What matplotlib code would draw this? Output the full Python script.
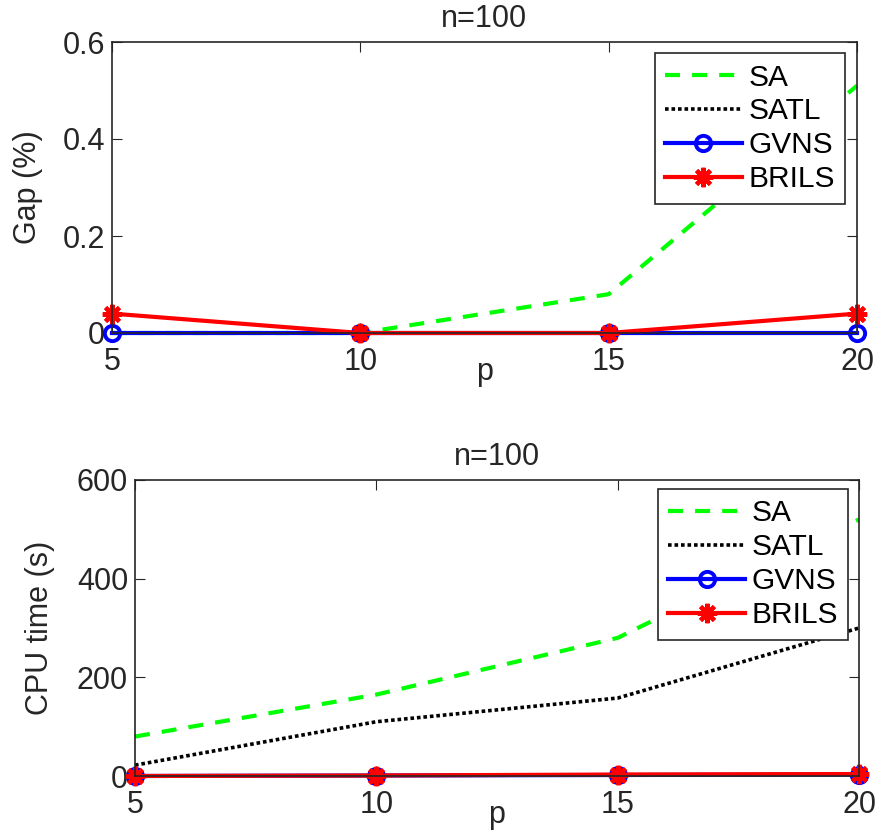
import matplotlib
matplotlib.use("Agg")
import matplotlib.pyplot as plt

plt.rcParams['font.family'] = ['Liberation Sans', 'DejaVu Sans']

p = [5, 10, 15, 20]
title = "n=100"

gap_sa = [0, 0, 0.08, 0.51]
gap_satl = [0, 0, 0, 0]
gap_gvns = [0, 0, 0, 0]
gap_brils = [0.04, 0, 0, 0.04]

cpu_sa = [80, 165, 280, 520]
cpu_satl = [22, 110, 158, 300]
cpu_gvns = [0, 1, 2, 3]
cpu_brils = [0, 1, 3, 4]

labels = ["SA", "SATL", "GVNS", "BRILS"]

DARK = (0.15, 0.15, 0.15)

fig = plt.figure(figsize=(8.77, 8.36), dpi=100)
ax1 = fig.add_axes([112/877, 1-333/836, 745/877, 291/836])
ax2 = fig.add_axes([135/877, 1-776/836, 724/877, 296/836])

def draw(ax, sa, satl, gvns, brils, ylim, yticks, ylabel, ylab_x, leg_anchor):
    ax.plot(p, sa, color=(0, 1, 0), linestyle=(0, (3.6, 2.9)), lw=3, label=labels[0])
    ax.plot(p, satl, color='black', linestyle=(0, (1, 0.8)), lw=2.6, label=labels[1])
    ax.plot(p, gvns, color='blue', lw=3, marker='o', ms=11, mew=2.8,
            mfc='none', label=labels[2])
    ax.plot(p, brils, color='red', lw=3, marker=(8, 2, 0), ms=14, mew=3,
            label=labels[3])
    ax.set_xlim(5, 20)
    ax.set_ylim(*ylim)
    ax.set_xticks(p)
    ax.set_yticks(yticks)
    ax.set_yticklabels([("%g" % t) for t in yticks])
    ax.tick_params(direction='in', top=True, right=True, labelsize=22,
                   length=7, color=DARK, labelcolor=DARK)
    ax.tick_params(axis='x', pad=10)
    ax.tick_params(axis='y', pad=5)
    for s in ax.spines.values():
        s.set_color(DARK)
        s.set_linewidth(1.2)
    ax.set_title(title, fontsize=22, color=DARK, pad=11)
    ax.set_xlabel("p", fontsize=22, labelpad=-14, color=DARK)
    ax.set_ylabel(ylabel, fontsize=22, color=DARK)
    ax.yaxis.set_label_coords(ylab_x, 0.5)
    leg = ax.legend(loc='upper right', fontsize=21.5, frameon=True, fancybox=False,
                    framealpha=1, edgecolor=DARK, handlelength=2.55,
                    handletextpad=0.22, labelspacing=0.2, borderpad=0.35,
                    borderaxespad=0, bbox_to_anchor=leg_anchor)
    leg.get_frame().set_linewidth(1.2)
    for line in ax.lines:
        line.set_clip_on(False)

draw(ax1, gap_sa, gap_satl, gap_gvns, gap_brils, (0, 0.6), [0, 0.2, 0.4, 0.6],
     "Gap (%)", -0.0926, (0.984, 0.962))
draw(ax2, cpu_sa, cpu_satl, cpu_gvns, cpu_brils, (0, 600), [0, 200, 400, 600],
     "CPU time (s)", -0.1105, (0.985, 0.970))

fig.savefig("out.png", dpi=100)
